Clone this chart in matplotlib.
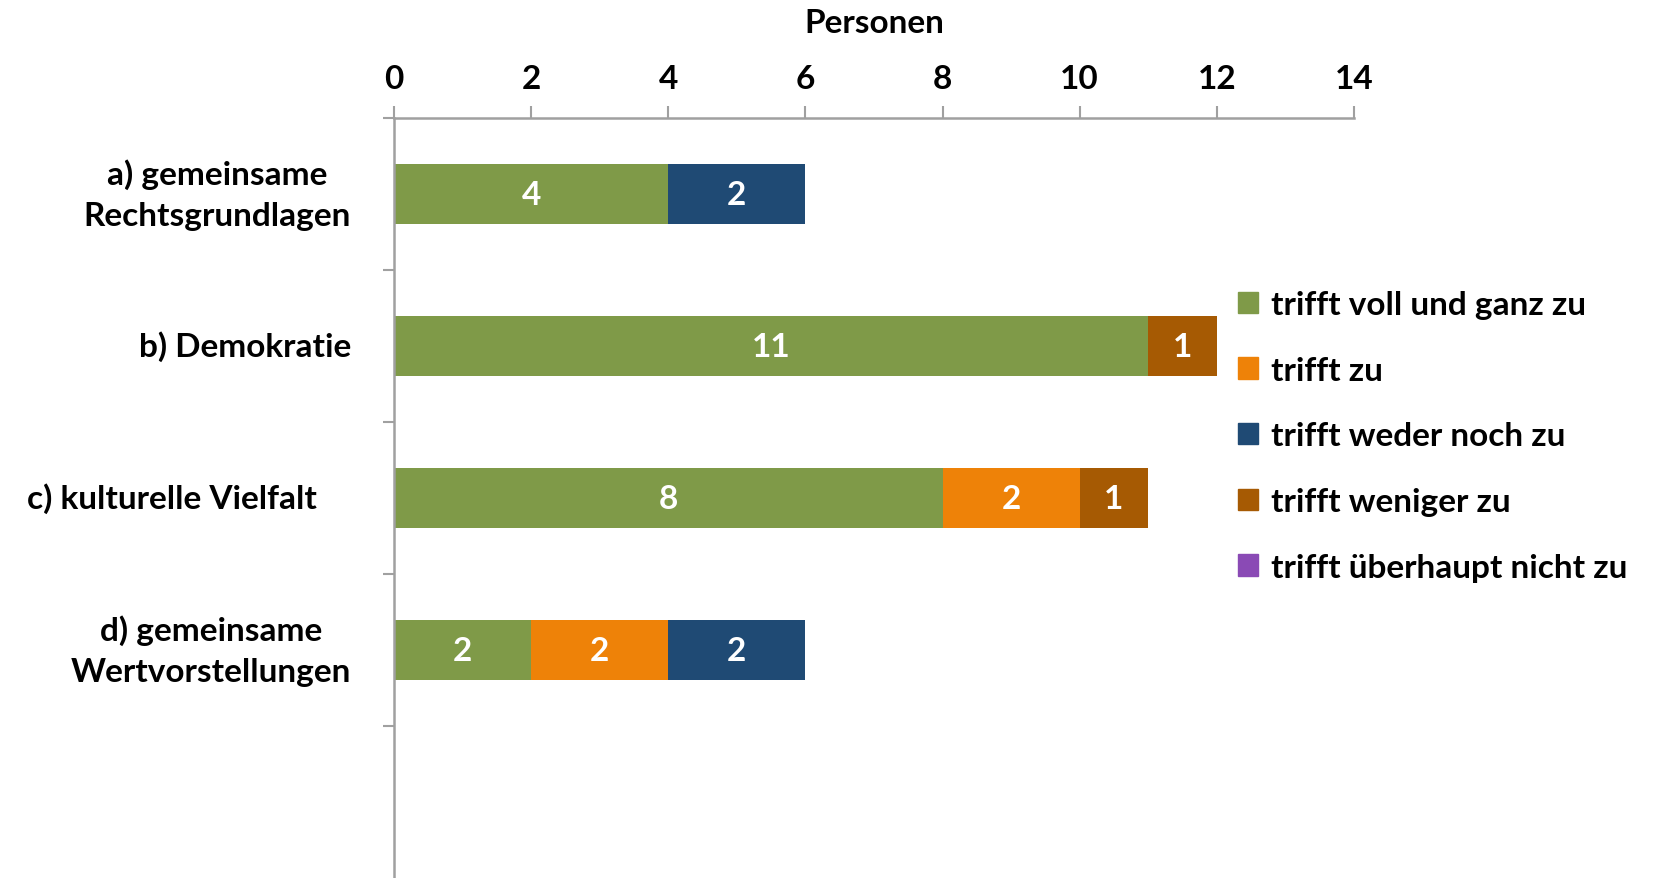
import numpy as np
import matplotlib.pyplot as plt
from matplotlib.patches import Patch

plt.rcParams['font.family'] = ['Lato', 'DejaVu Sans']
plt.rcParams['font.weight'] = 'bold'

# Kategorien und Werte (Personen)
categories = ['a) gemeinsame\nRechtsgrundlagen', 'b) Demokratie',
              'c) kulturelle Vielfalt', 'd) gemeinsame\nWertvorstellungen']
series_names = ['trifft voll und ganz zu', 'trifft zu', 'trifft weder noch zu',
                'trifft weniger zu', 'trifft überhaupt nicht zu']
voll = [4, 11, 8, 2]
zu = [0, 0, 2, 2]
weder = [2, 0, 0, 2]
weniger = [0, 1, 1, 0]
nicht = [0, 0, 0, 0]
xticks = [0, 2, 4, 6, 8, 10, 12, 14]

colors = ['#7F9A48', '#EE8208', '#1F4A74', '#A65A03', '#8A4AB5']
grey = '#A0A0A0'
fs = 24

fig = plt.figure(figsize=(16.57, 8.79), dpi=100)
ax = fig.add_axes([0.2378, 0.0, 0.5793, 0.8646])

y = np.arange(len(categories))
left = np.zeros(len(categories))
for vals, c in zip([voll, zu, weder, weniger, nicht], colors):
    vals = np.array(vals, dtype=float)
    ax.barh(y, vals, left=left, height=0.4, color=c)
    for yi, l, v in zip(y, left, vals):
        if v > 0:
            ax.text(l + v / 2, yi, f'{int(v)}', ha='center', va='center',
                    color='white', fontsize=fs, fontweight='bold')
    left += vals

ax.set_xlim(0, 14)
ax.set_ylim(4.5, -0.5)
ax.xaxis.set_ticks_position('top')
ax.xaxis.set_label_position('top')
ax.set_xticks(xticks)
ax.set_xticklabels([str(t) for t in xticks], fontsize=fs, fontweight='bold')
ax.tick_params(axis='x', direction='out', length=9, width=1.5, color=grey, pad=9)
ax.set_xlabel('Personen', fontsize=fs, fontweight='bold', labelpad=23)

ax.set_yticks([])
ax.set_yticks(np.arange(-0.5, 4.5, 1.0), minor=True)
ax.tick_params(axis='y', which='minor', direction='out', length=8, width=1.5, color=grey)
ax.tick_params(axis='y', which='major', length=0)

for s in ['right', 'bottom']:
    ax.spines[s].set_visible(False)
for s in ['top', 'left']:
    ax.spines[s].set_color(grey)
    ax.spines[s].set_linewidth(1.8)

# Kategorie-Beschriftungen
offsets = [-0.045, -0.045, -0.08, -0.045]
for yi, lab, off in zip(y, categories, offsets):
    ax.text(off, yi, lab, transform=ax.get_yaxis_transform(),
            ha='right', va='center', multialignment='center',
            fontsize=fs, fontweight='bold', linespacing=1.5)

handles = [Patch(color=c) for c in colors]
fig.legend(handles, series_names, loc='upper left', bbox_to_anchor=(0.729, 0.703),
           frameon=False, fontsize=fs, handlelength=0.6, handleheight=0.6,
           handletextpad=0.4, labelspacing=1.1)

fig.savefig('out.png', dpi=100)
